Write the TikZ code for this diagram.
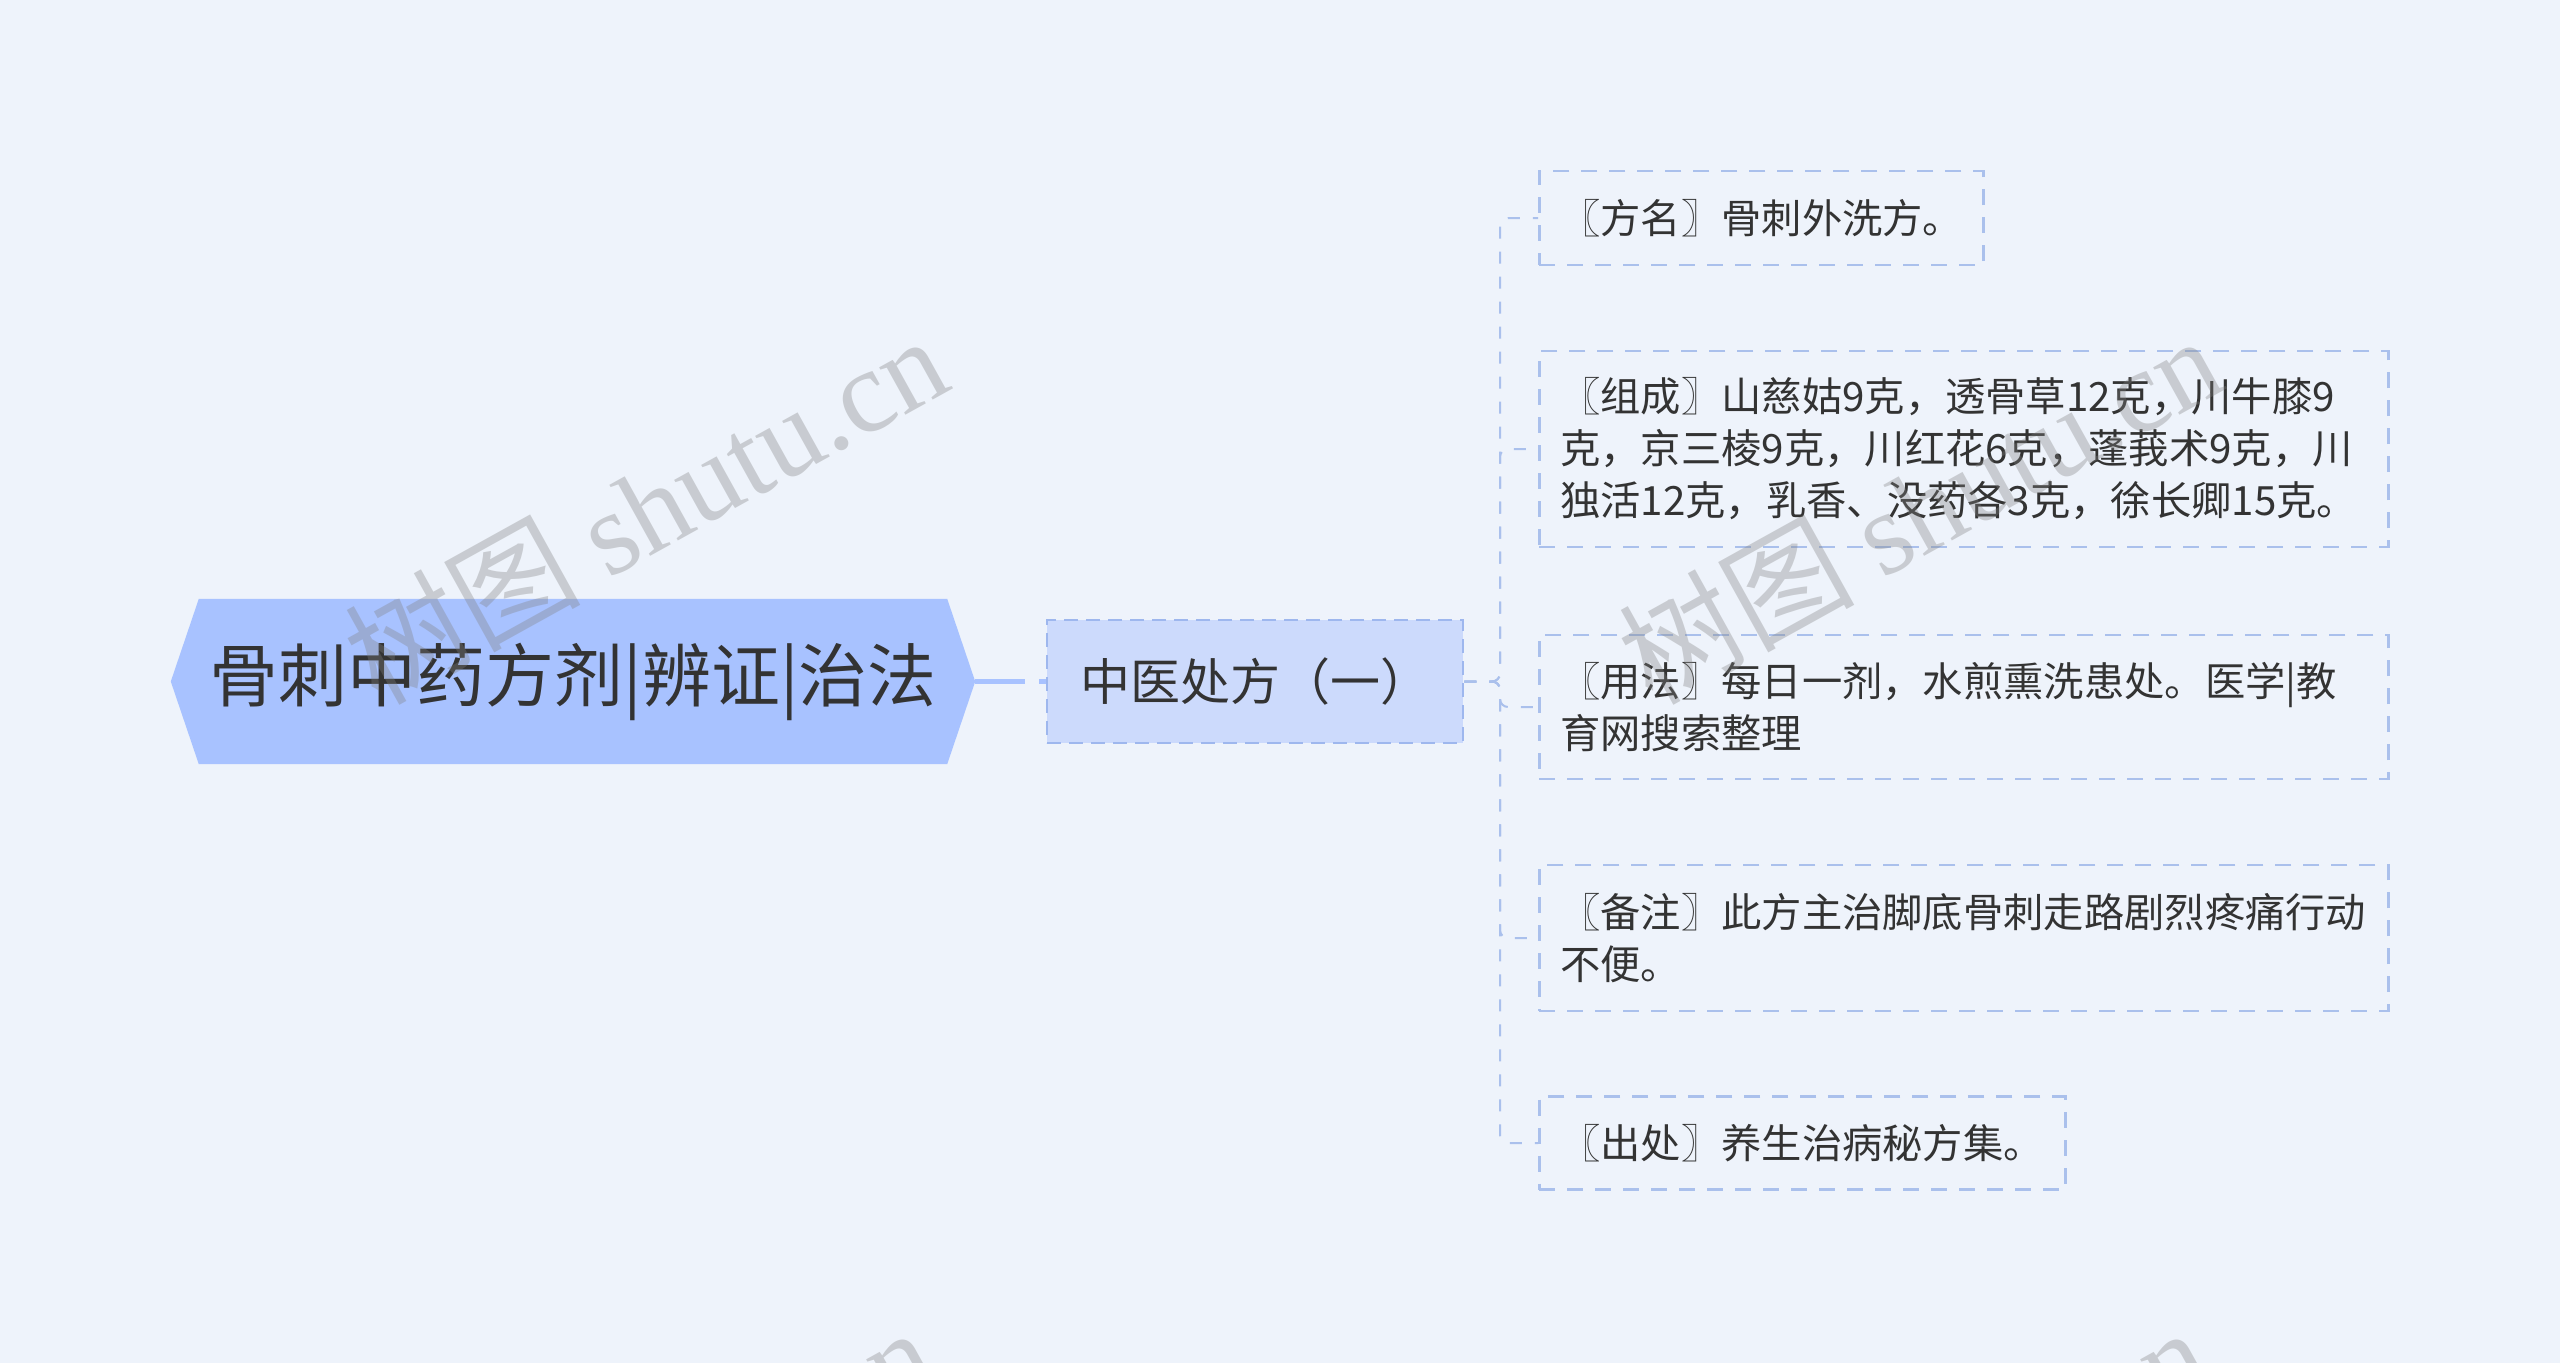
\documentclass[tikz,border=0pt]{standalone}
\usepackage{fontspec}
\setmainfont{Noto Sans CJK SC}
\newfontfamily\wmlatin{Liberation Serif}
\usetikzlibrary{calc,backgrounds}
\definecolor{bg}{HTML}{EEF3FB}
\definecolor{rootfill}{HTML}{A8C2FF}
\definecolor{midfill}{HTML}{CCDAFC}
\definecolor{midline}{HTML}{9EB7EE}
\definecolor{leafline}{HTML}{AAC0EC}
\definecolor{txt}{HTML}{333333}
\tikzset{
  rootbox/.style={minimum width=804pt, minimum height=165pt, inner sep=0pt,
    text=txt, font=\fontsize{69}{80}\selectfont},
  midbox/.style={draw=midline, fill=midfill, line width=2.5pt,
    dash pattern=on 14pt off 8pt, minimum width=416pt, minimum height=123pt,
    inner sep=0pt, text=txt, font=\fontsize{50}{60}\selectfont},
  leafbox/.style={draw=leafline, line width=2.5pt, dash pattern=on 16pt off 12pt,
    anchor=west, inner xsep=21pt, inner ysep=0pt, align=left, text=txt,
    font=\fontsize{40.3}{52}\selectfont},
  rootlink/.style={draw=rootfill, line width=5pt, dash pattern=on 50pt off 14pt},
  leaflink/.style={draw=leafline, line width=2pt, dash pattern=on 12pt off 13pt,
    rounded corners=8pt},
  wm/.style={text=black!50, text opacity=0.34, inner sep=0pt,
    font=\fontsize{118}{120}\selectfont, rotate=29}
}
\begin{document}
\begin{tikzpicture}[x=1pt,y=-1pt]
\useasboundingbox (0,0) rectangle (2560,1363);
\begin{pgfonlayer}{background}
\fill[bg] (0,0) rectangle (2560,1363);
\end{pgfonlayer}
\node[rootbox] (root) at (573,681.5) {骨刺中药方剂|辨证|治法};
\begin{pgfonlayer}{background}
\fill[rootfill] (root.west) -- ($(root.north west)+(28,0)$) -- ($(root.north east)+(-28,0)$)
  -- (root.east) -- ($(root.south east)+(-28,0)$) -- ($(root.south west)+(28,0)$) -- cycle;
\end{pgfonlayer}
\node[midbox] (mid) at (1255,681.5) {中医处方（一）};
\node[leafbox, minimum width=444pt, minimum height=94pt, text width=402pt] (l1) at (1538,218)
  {〖方名〗骨刺外洗方。};
\node[leafbox, minimum width=849pt, minimum height=196pt, text width=807pt] (l2) at (1538,449)
  {〖组成〗山慈姑9克，透骨草12克，川牛膝9\\克，京三棱9克，川红花6克，蓬莪术9克，川\\独活12克，乳香、没药各3克，徐长卿15克。};
\node[leafbox, minimum width=849pt, minimum height=144pt, text width=807pt] (l3) at (1538,707)
  {〖用法〗每日一剂，水煎熏洗患处。医学|教\\育网搜索整理};
\node[leafbox, minimum width=849pt, minimum height=146pt, text width=807pt] (l4) at (1538,938)
  {〖备注〗此方主治脚底骨刺走路剧烈疼痛行动\\不便。};
\node[leafbox, minimum width=526pt, minimum height=93pt, text width=484pt] (l5) at (1538,1143)
  {〖出处〗养生治病秘方集。};
\draw[rootlink] (root.east) -- (mid.west);
\coordinate (trunk) at (1500,681.5);
\foreach \n in {l1,l2,l3,l4,l5}
  \draw[leaflink] (mid.east) -- (trunk) |- (\n.west);
\begin{scope}
\clip (0,0) rectangle (2560,1363);
\node[wm] (w1) at (645,508) {树图 {\wmlatin shutu.cn}};
\node[wm] (w2) at (1919,508) {树图 {\wmlatin shutu.cn}};
\node[wm] (w3) at (632,1500) {树图 {\wmlatin shutu.cn}};
\node[wm] (w4) at (1906,1500) {树图 {\wmlatin shutu.cn}};
\end{scope}
\end{tikzpicture}
\end{document}
